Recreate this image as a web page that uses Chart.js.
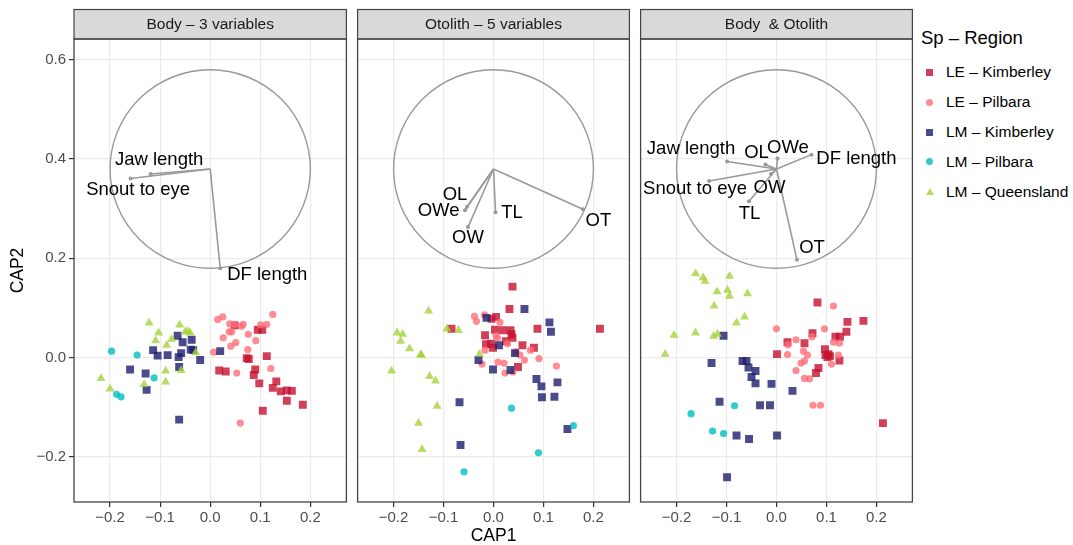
<!DOCTYPE html>
<html><head><meta charset="utf-8">
<script src="https://cdn.jsdelivr.net/npm/chart.js@4.4.0/dist/chart.umd.min.js"></script>
<style>
body{margin:0;background:#fff;}
#wrap{position:relative;width:1073px;height:545px;font-family:"Liberation Sans",Arial,Helvetica,sans-serif;overflow:hidden;}
.cv{position:absolute;top:0;}
.legtitle{position:absolute;left:921px;top:27px;font-size:18.5px;color:#000;line-height:22px;white-space:nowrap;}
.legitem{position:absolute;left:946px;font-size:15.5px;color:#000;line-height:18px;white-space:nowrap;}
.mk{position:absolute;}
</style></head><body>
<div id="wrap">
<canvas id="k1" class="cv" style="left:0px" width="352" height="545"></canvas>
<canvas id="k2" class="cv" style="left:352px" width="283" height="545"></canvas>
<canvas id="k3" class="cv" style="left:635px" width="283" height="545"></canvas>
<div id="legend"></div>
</div>
<script>
// ---------- data ----------
const PANEL_TITLES = ['Body \u2013 3 variables', 'Otolith \u2013 5 variables', 'Body  & Otolith'];
const GROUPS = ['LE \u2013 Kimberley', 'LE \u2013 Pilbara', 'LM \u2013 Kimberley', 'LM \u2013 Pilbara', 'LM \u2013 Queensland'];
const GROUP_COLORS = ['rgba(198,16,46,0.8)', 'rgba(255,110,120,0.8)', 'rgba(30,30,110,0.8)', 'rgba(0,190,190,0.8)', 'rgba(165,210,60,0.8)'];
const GROUP_SHAPES = ['rect', 'circle', 'rect', 'circle', 'triangle'];
const X_TICKS = [-0.2, -0.1, 0, 0.1, 0.2];
const X_TICK_LABELS = ['\u22120.2', '\u22120.1', '0.0', '0.1', '0.2'];
const Y_TICKS = [-0.2, 0, 0.2, 0.4, 0.6];
const Y_TICK_LABELS = ['\u22120.2', '0.0', '0.2', '0.4', '0.6'];
const CIRCLE_CENTER = [0, 0.38];
const CIRCLE_RADIUS = 0.2;

// Panel 1: Body - 3 variables
const P1_LE_KIM = [[0.049,0.065],[0.095,0.056],[0.104,0.056],[0.018,-0.026],[0.031,-0.028],[0.073,-0.001],[0.077,-0.003],[0.113,0.003],[0.090,-0.024],[0.087,-0.035],[0.098,-0.052],[0.125,-0.061],[0.132,-0.048],[0.141,-0.068],[0.153,-0.066],[0.163,-0.067],[0.153,-0.087],[0.185,-0.095],[0.105,-0.107]];
const P1_LE_PIL = [[0.015,0.077],[0.025,0.082],[0.039,0.068],[0.049,0.067],[0.062,0.063],[0.066,0.067],[0.038,0.052],[0.043,0.052],[0.026,0.040],[0.051,0.030],[0.041,0.023],[0.076,0.047],[0.091,0.034],[0.101,0.066],[0.113,0.067],[0.125,0.087],[0.075,0.016],[0.007,0.011],[0.053,-0.031],[0.121,-0.022],[0.060,-0.132]];
const P1_LM_KIM = [[-0.065,0.044],[-0.055,0.031],[-0.037,0.036],[-0.039,0.016],[-0.034,0.015],[-0.114,0.015],[-0.105,0.004],[-0.085,0.005],[-0.058,0.009],[-0.063,0.001],[-0.062,-0.019],[-0.020,-0.005],[-0.160,-0.024],[-0.129,-0.032],[-0.127,-0.065],[-0.062,-0.125],[0.020,0.013]];
const P1_LM_PIL = [[-0.197,0.013],[-0.146,0.005],[-0.112,-0.041],[-0.187,-0.074],[-0.178,-0.079]];
const P1_LM_QLD = [[-0.122,0.070],[-0.103,0.050],[-0.109,0.034],[-0.087,0.025],[-0.077,0.037],[-0.061,0.066],[-0.050,0.052],[-0.040,0.050],[-0.045,0.053],[-0.029,0.010],[-0.218,-0.042],[-0.200,-0.063],[-0.132,-0.054],[-0.089,-0.027],[-0.089,-0.049],[-0.058,-0.026]];

// Panel 2: Otolith - 5 variables
const P2_LE_KIM = [[0.038,0.143],[0.032,0.098],[-0.004,0.078],[0.005,0.082],[-0.084,0.058],[0.003,0.056],[0.019,0.055],[0.034,0.055],[0.036,0.047],[0.038,0.040],[-0.017,0.045],[-0.015,0.027],[-0.005,0.028],[-0.001,0.020],[0.025,0.033],[0.058,0.025],[0.081,0.020],[0.088,0.058],[0.213,0.058],[0.049,-0.019]];
const P2_LE_PIL = [[-0.038,0.083],[-0.034,0.073],[-0.018,0.086],[0.013,0.071],[0.005,0.044],[0.008,0.039],[0.028,0.028],[0.045,0.012],[-0.017,0.015],[0.053,0.005],[0.062,-0.005],[0.074,0.015],[0.091,-0.002],[0.126,-0.017],[0.009,-0.009],[0.021,-0.011],[0.023,-0.031],[0.039,-0.029],[-0.023,-0.013]];
const P2_LM_KIM = [[-0.014,0.080],[0.062,0.098],[0.112,0.071],[0.115,0.052],[0.011,0.025],[0.043,0.009],[-0.030,-0.005],[-0.001,-0.024],[0.034,-0.025],[0.086,-0.043],[0.096,-0.058],[0.128,-0.050],[0.097,-0.080],[0.122,-0.079],[-0.068,-0.090],[0.148,-0.144],[-0.066,-0.176]];
const P2_LM_PIL = [[0.036,-0.102],[0.160,-0.137],[0.090,-0.192],[-0.059,-0.230]];
const P2_LM_QLD = [[-0.130,0.094],[-0.193,0.050],[-0.182,0.047],[-0.186,0.033],[-0.168,0.018],[-0.146,0.006],[-0.144,0.005],[-0.204,-0.027],[-0.128,-0.038],[-0.116,-0.047],[-0.113,-0.098],[-0.150,-0.132],[-0.143,-0.185],[-0.093,0.058],[-0.070,0.055],[-0.028,0.007]];

// Panel 3: Body & Otolith
const P3_LE_KIM = [[0.082,0.111],[0.142,0.072],[0.174,0.074],[0.140,0.052],[0.072,0.049],[0.118,0.042],[0.127,0.042],[0.022,0.031],[0.056,0.029],[0.001,0.007],[0.097,0.017],[0.098,0.005],[0.104,0.007],[0.107,0.003],[0.126,-0.006],[0.084,-0.021],[0.079,-0.031],[0.213,-0.132],[0.102,0.001]];
const P3_LE_PIL = [[0.114,0.104],[0.000,0.058],[0.096,0.058],[0.071,0.042],[0.039,0.036],[0.023,0.026],[0.114,0.031],[0.126,0.029],[0.022,0.006],[0.054,0.013],[0.062,0.005],[0.056,-0.007],[0.049,-0.011],[0.124,0.005],[0.110,-0.013],[0.039,-0.026],[0.056,-0.042],[0.066,-0.043],[0.073,-0.096],[0.088,-0.096]];
const P3_LM_KIM = [[-0.106,0.044],[-0.130,-0.011],[-0.068,-0.007],[-0.060,-0.007],[-0.056,-0.020],[-0.042,-0.027],[-0.050,-0.039],[-0.042,-0.052],[-0.010,-0.053],[0.032,-0.067],[-0.114,-0.089],[-0.033,-0.096],[-0.013,-0.096],[-0.080,-0.157],[-0.055,-0.164],[0.001,-0.157],[-0.099,-0.241]];
const P3_LM_PIL = [[-0.084,-0.097],[-0.171,-0.113],[-0.128,-0.148],[-0.106,-0.153]];
const P3_LM_QLD = [[-0.162,0.169],[-0.147,0.161],[-0.143,0.154],[-0.094,0.164],[-0.119,0.133],[-0.098,0.136],[-0.094,0.124],[-0.058,0.129],[-0.125,0.104],[-0.064,0.082],[-0.080,0.070],[-0.162,0.050],[-0.205,0.045],[-0.126,0.043],[-0.118,0.047],[-0.223,0.007]];

// Vectors (loadings) per panel
const V1_NAMES = ['Jaw length', 'Snout to eye', 'DF length'];
const V1_ENDS = [[-0.119,0.370],[-0.159,0.361],[0.020,0.180]];
const V1_LABEL_AT = [[-0.102,0.398],[-0.144,0.337],[0.114,0.166]];
const V2_NAMES = ['OL', 'OWe', 'OW', 'TL', 'OT'];
const V2_ENDS = [[-0.053,0.304],[-0.057,0.297],[-0.051,0.263],[0.004,0.293],[0.179,0.299]];
const V2_LABEL_AT = [[-0.077,0.327],[-0.110,0.295],[-0.051,0.242],[0.037,0.291],[0.210,0.275]];
const V3_NAMES = ['Jaw length', 'Snout to eye', 'OL', 'OWe', 'DF length', 'OW', 'TL', 'OT'];
const V3_ENDS = [[-0.099,0.395],[-0.135,0.356],[-0.022,0.389],[0.002,0.401],[0.070,0.409],[-0.011,0.370],[-0.055,0.315],[0.041,0.197]];
const V3_LABEL_AT = [[-0.171,0.420],[-0.163,0.339],[-0.040,0.412],[0.023,0.422],[0.160,0.400],[-0.014,0.341],[-0.054,0.289],[0.071,0.222]];

// ---------- drawing ----------
const FONT = '"Liberation Sans", Arial, Helvetica, sans-serif';
Chart.defaults.font.family = FONT;

const panelDecor = {
  id: 'panelDecor',
  beforeDatasetsDraw(chart, args, opts) {
    const {ctx, chartArea: a, scales: {x, y}} = chart;
    ctx.save();
    // circle
    const cx = x.getPixelForValue(CIRCLE_CENTER[0]);
    const cy = y.getPixelForValue(CIRCLE_CENTER[1]);
    const rx = x.getPixelForValue(CIRCLE_CENTER[0] + CIRCLE_RADIUS) - cx;
    const ry = cy - y.getPixelForValue(CIRCLE_CENTER[1] + CIRCLE_RADIUS);
    ctx.beginPath();
    ctx.ellipse(cx, cy, rx, ry, 0, 0, Math.PI * 2);
    ctx.strokeStyle = '#999';
    ctx.lineWidth = 1.4;
    ctx.stroke();
    ctx.restore();
  },
  afterDraw(chart, args, opts) {
    const {ctx, chartArea: a, scales: {x, y}} = chart;
    ctx.save();
    // labels
    ctx.fillStyle = '#000';
    ctx.font = '18.5px ' + FONT;
    ctx.textAlign = 'center';
    ctx.textBaseline = 'middle';
    opts.names.forEach((n, i) => {
      ctx.fillText(n, x.getPixelForValue(opts.at[i][0]), y.getPixelForValue(opts.at[i][1]));
    });
    // strip
    ctx.fillStyle = '#d9d9d9';
    ctx.fillRect(a.left, 9.5, a.right - a.left, a.top - 9.5);
    ctx.strokeStyle = '#444';
    ctx.lineWidth = 1.2;
    ctx.strokeRect(a.left, 9.5, a.right - a.left, a.top - 9.5);
    ctx.fillStyle = '#1a1a1a';
    ctx.font = '15.5px ' + FONT;
    ctx.fillText(opts.title, (a.left + a.right) / 2, (9.5 + a.top) / 2 + 0.5);
    // panel frame
    ctx.strokeStyle = '#444';
    ctx.lineWidth = 1.3;
    ctx.strokeRect(a.left, a.top, a.right - a.left, a.bottom - a.top);
    ctx.restore();
  }
};

function makeChart(id, idx, groups, vNames, vEnds, vLabels) {
  const datasets = [];
  vEnds.forEach((e, i) => {
    datasets.push({
      type: 'line',
      data: [{x: CIRCLE_CENTER[0], y: CIRCLE_CENTER[1]}, {x: e[0], y: e[1]}],
      borderColor: '#999', borderWidth: 1.6,
      pointRadius: [0, 2], pointBackgroundColor: '#999', pointBorderWidth: 0,
      showLine: true, fill: false, order: 10
    });
  });
  groups.forEach((g, gi) => {
    datasets.push({
      type: 'scatter',
      label: GROUPS[gi],
      data: g.map(p => ({x: p[0], y: p[1]})),
      pointStyle: GROUP_SHAPES[gi],
      pointRadius: GROUP_SHAPES[gi] === 'rect' ? 5.6 : (GROUP_SHAPES[gi] === 'triangle' ? 5.2 : 3.6),
      backgroundColor: GROUP_COLORS[gi],
      borderColor: GROUP_COLORS[gi],
      borderWidth: 0,
      order: 5 - gi
    });
  });
  const first = idx === 0;
  return new Chart(document.getElementById(id), {
    type: 'scatter',
    data: {datasets},
    options: {
      responsive: false, animation: false, events: [],
      layout: {padding: {top: 39, left: first ? 0 : 5, right: 5, bottom: 0}},
      plugins: {
        legend: {display: false}, tooltip: {enabled: false},
        panelDecor: {names: vNames, at: vLabels, title: PANEL_TITLES[idx]}
      },
      scales: {
        x: {
          type: 'linear', min: -0.272, max: 0.272,
          afterBuildTicks: s => { s.ticks = X_TICKS.map(v => ({value: v})); },
          afterFit: s => { s.height = 43; },
          ticks: {callback: (v, i) => X_TICK_LABELS[i], color: '#4d4d4d', font: {size: 15}, padding: 2, maxRotation: 0, autoSkip: false},
          grid: {color: '#ebebeb', lineWidth: 1.2, tickColor: '#333', tickLength: 5},
          border: {display: false},
          title: {display: idx === 1, text: 'CAP1', color: '#000', font: {size: 17.5, lineHeight: 1}, padding: {top: 0, bottom: 0}}
        },
        y: {
          type: 'linear', min: -0.291, max: 0.642,
          afterBuildTicks: s => { s.ticks = Y_TICKS.map(v => ({value: v})); },
          afterFit: s => { s.width = first ? 74 : 0; },
          ticks: {display: first, callback: (v, i) => Y_TICK_LABELS[i], color: '#4d4d4d', font: {size: 15}, padding: 3},
          grid: {color: '#ebebeb', lineWidth: 1.2, tickColor: '#333', tickLength: 5, drawTicks: first},
          border: {display: false},
          title: {display: first, text: 'CAP2', color: '#000', font: {size: 17.5, lineHeight: 1}, padding: {top: 9, bottom: 0}}
        }
      }
    },
    plugins: [panelDecor]
  });
}

makeChart('k1', 0, [P1_LE_KIM, P1_LE_PIL, P1_LM_KIM, P1_LM_PIL, P1_LM_QLD], V1_NAMES, V1_ENDS, V1_LABEL_AT);
makeChart('k2', 1, [P2_LE_KIM, P2_LE_PIL, P2_LM_KIM, P2_LM_PIL, P2_LM_QLD], V2_NAMES, V2_ENDS, V2_LABEL_AT);
makeChart('k3', 2, [P3_LE_KIM, P3_LE_PIL, P3_LM_KIM, P3_LM_PIL, P3_LM_QLD], V3_NAMES, V3_ENDS, V3_LABEL_AT);

// ---------- legend ----------
const leg = document.getElementById('legend');
const t = document.createElement('div');
t.className = 'legtitle'; t.textContent = 'Sp \u2013 Region';
leg.appendChild(t);
const LEG_Y = [72, 102, 132, 161.5, 191.5];
GROUPS.forEach((g, i) => {
  const lab = document.createElement('div');
  lab.className = 'legitem';
  lab.style.top = (LEG_Y[i] - 9) + 'px';
  lab.textContent = g;
  leg.appendChild(lab);
  const m = document.createElement('div');
  m.className = 'mk';
  const cy = LEG_Y[i], cx = 929.5;
  if (GROUP_SHAPES[i] === 'rect') {
    Object.assign(m.style, {left: (cx - 3.5) + 'px', top: (cy - 3.5) + 'px', width: '7px', height: '7px', background: GROUP_COLORS[i]});
  } else if (GROUP_SHAPES[i] === 'circle') {
    Object.assign(m.style, {left: (cx - 3.5) + 'px', top: (cy - 3.5) + 'px', width: '7px', height: '7px', borderRadius: '50%', background: GROUP_COLORS[i]});
  } else {
    Object.assign(m.style, {left: (cx - 4) + 'px', top: (cy - 4) + 'px', width: 0, height: 0, borderLeft: '4px solid transparent', borderRight: '4px solid transparent', borderBottom: '7px solid ' + GROUP_COLORS[i]});
  }
  leg.appendChild(m);
});
</script>
</body></html>
